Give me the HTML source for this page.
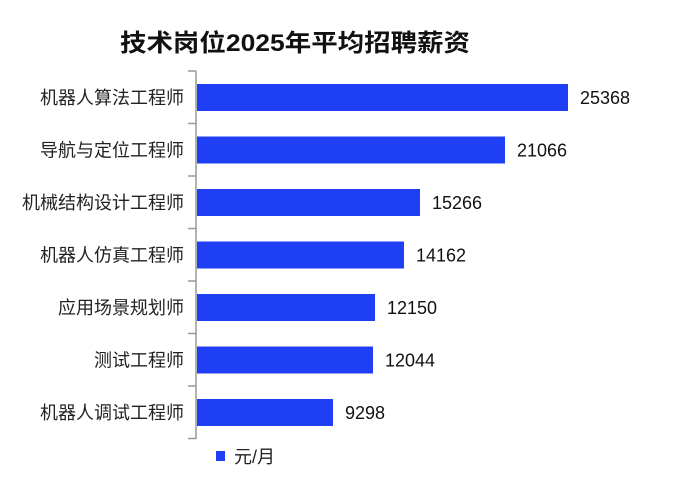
<!DOCTYPE html>
<html><head><meta charset="utf-8"><style>
body{margin:0;background:#fff;}
svg text{font-family:"Liberation Sans","Noto Sans CJK SC",sans-serif;}
</style></head><body>
<svg width="676" height="477" xmlns="http://www.w3.org/2000/svg">
<rect width="676" height="477" fill="#fff"/>
<text x="120" y="51" font-size="24" font-weight="bold" fill="#111" textLength="350" lengthAdjust="spacingAndGlyphs">技术岗位2025年平均招聘薪资</text>
<g fill="#1f3ff5">
<rect x="197" y="84" width="371" height="27"/>
<rect x="197" y="136.5" width="308" height="27"/>
<rect x="197" y="189" width="223" height="27"/>
<rect x="197" y="241.5" width="207" height="27"/>
<rect x="197" y="294" width="178" height="27"/>
<rect x="197" y="346.5" width="176" height="27"/>
<rect x="197" y="399" width="136" height="27"/>
</g>
<g stroke="#999" stroke-width="1.5" fill="none">
<line x1="196" y1="71" x2="196" y2="439"/>
<line x1="188" y1="71" x2="196" y2="71"/>
<line x1="188" y1="123.5" x2="196" y2="123.5"/>
<line x1="188" y1="176" x2="196" y2="176"/>
<line x1="188" y1="228.5" x2="196" y2="228.5"/>
<line x1="188" y1="281" x2="196" y2="281"/>
<line x1="188" y1="333.5" x2="196" y2="333.5"/>
<line x1="188" y1="386" x2="196" y2="386"/>
<line x1="188" y1="438.5" x2="196" y2="438.5"/>
</g>
<g font-size="18" fill="#222" text-anchor="end">
<text x="184" y="104">机器人算法工程师</text>
<text x="184" y="156.5">导航与定位工程师</text>
<text x="184" y="209">机械结构设计工程师</text>
<text x="184" y="261.5">机器人仿真工程师</text>
<text x="184" y="314">应用场景规划师</text>
<text x="184" y="366.5">测试工程师</text>
<text x="184" y="419">机器人调试工程师</text>
</g>
<g font-size="18" fill="#111">
<text x="580" y="104">25368</text>
<text x="517" y="156.5">21066</text>
<text x="432" y="209">15266</text>
<text x="416" y="261.5">14162</text>
<text x="387" y="314">12150</text>
<text x="385" y="366.5">12044</text>
<text x="345" y="419">9298</text>
</g>
<rect x="216" y="451" width="9" height="10" fill="#1f3ff5"/>
<text x="234" y="463" font-size="18" fill="#222">元/月</text>
</svg>
</body></html>
